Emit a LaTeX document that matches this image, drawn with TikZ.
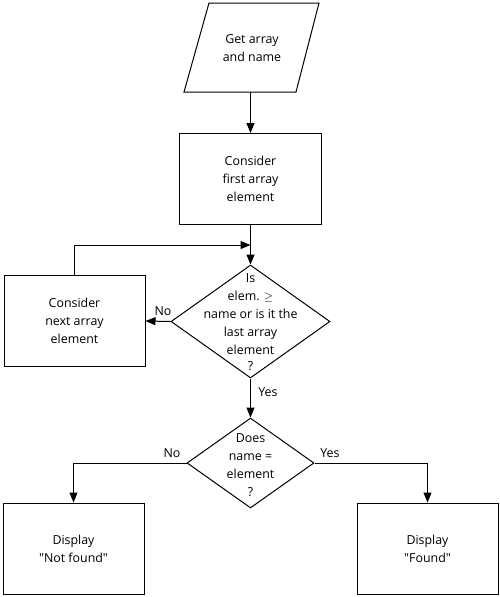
\documentclass[tikz,border=0pt]{standalone}
\usepackage{fontspec}
\setmainfont{Open Sans}
\usetikzlibrary{arrows.meta,shapes.geometric}
\begin{document}
\begin{tikzpicture}[x=1pt,y=-1pt,
  box/.style={draw, line width=1pt, minimum width=142pt, minimum height=91pt, inner sep=0pt, align=center, font=\fontsize{12.4}{18}\selectfont},
  txt/.style={align=center, font=\fontsize{12.4}{18}\selectfont, inner sep=0pt},
  dia/.style={draw, diamond, inner sep=0pt, line width=1pt},
  arr/.style={-{Triangle[length=10pt,width=8pt]}, line width=1pt},
  lbl/.style={font=\fontsize{12.4}{14}\selectfont, inner sep=0pt}]
\useasboundingbox[fill=white] (0,0) rectangle (500,597);

% input parallelogram
\draw[line width=1pt] (209,3) -- (319,3) -- (296,92) -- (184,92) -- cycle;
\node[txt] (get) at (252,48.5) {Get array\\and name};
\coordinate (gb) at (250.5,92);

% first element
\node[box] (first) at (250.5,179) {Consider\\first array\\element};

% decision 1
\node[dia, minimum width=159pt, minimum height=113pt] (dia1) at (250.5,321.5) {};
\node[txt] (q1) at (250.5,322) {Is\\elem. $\geq$\\name or is it the\\last array\\element\\[-2pt]?};

% next element
\node[box, minimum width=141pt] (next) at (74.5,321) {Consider\\next array\\element};
\coordinate (loopend) at (250.5,245);

% decision 2
\node[dia, minimum width=127pt, minimum height=90pt] (dia2) at (250.5,463) {};
\node[txt] (q2) at (250.5,465) {Does\\name =\\element\\?};

% outputs
\node[box, minimum width=141pt] (nf) at (73.5,548.5) {Display\\\textquotedbl Not found\textquotedbl};
\node[box, minimum width=141pt] (fd) at (427.5,548.5) {Display\\\textquotedbl Found\textquotedbl};

% connectors
\draw[arr] (gb) -- (first.north);
\draw[arr] (first.south) -- (dia1.north);
\draw[arr] (next.north) |- (loopend);
\draw[arr] (dia1.west) -- (next.east);
\draw[arr] (dia1.south) -- (dia2.north);
\draw[arr] (dia2.west) -| (nf.north);
\draw[arr] (dia2.east) -| (fd.north);

% labels
\node[lbl] (l1) at (163,311) {No};
\node[lbl] (l2) at (268,392) {Yes};
\node[lbl] (l3) at (172,453) {No};
\node[lbl] (l4) at (330,453) {Yes};
\end{tikzpicture}
\end{document}
